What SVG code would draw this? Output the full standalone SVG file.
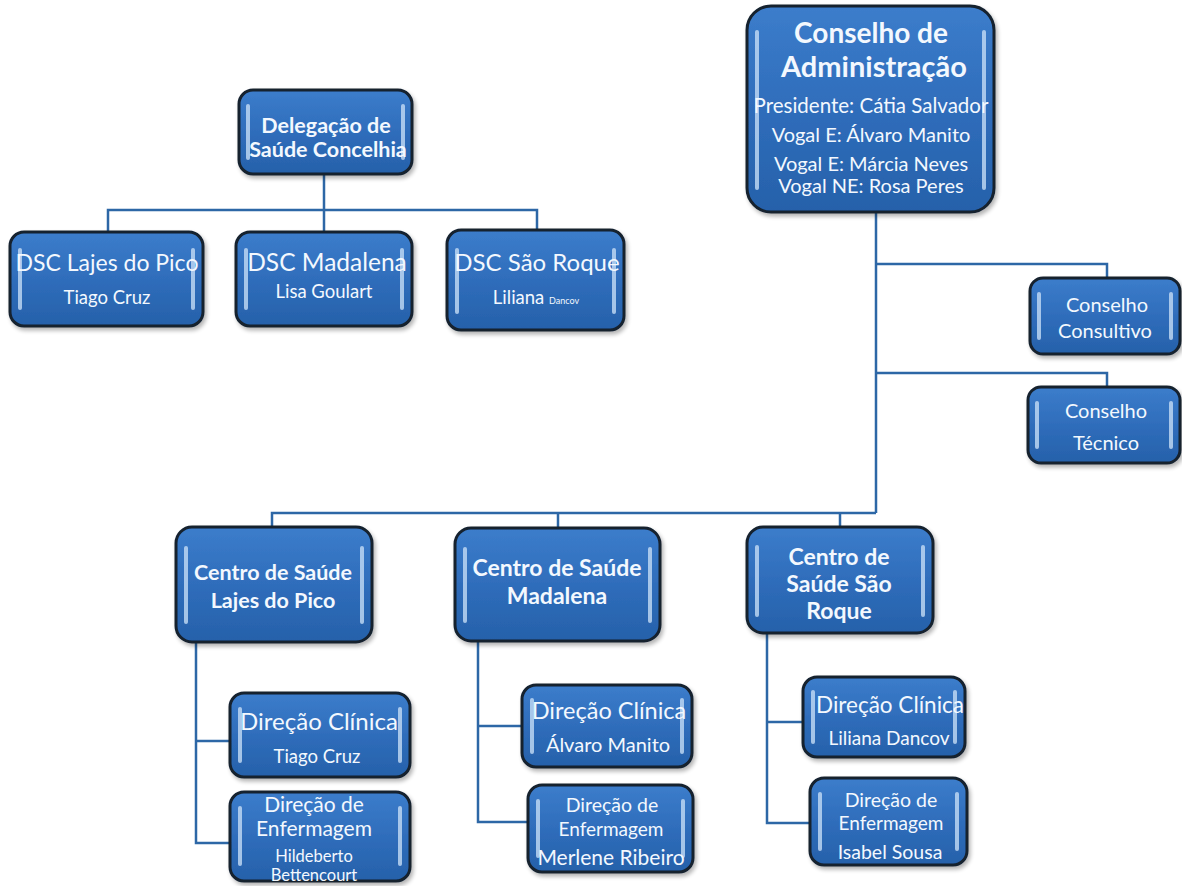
<svg xmlns="http://www.w3.org/2000/svg" width="1182" height="886" viewBox="0 0 1182 886">
<defs>
<linearGradient id="g" x1="0" y1="0" x2="0" y2="1">
<stop offset="0" stop-color="#3c7dcb"/>
<stop offset="0.5" stop-color="#2f6dbb"/>
<stop offset="1" stop-color="#2661aa"/>
</linearGradient>
<filter id="sh" x="-10%" y="-10%" width="130%" height="130%">
<feGaussianBlur in="SourceAlpha" stdDeviation="2"/>
<feOffset dx="2" dy="3" result="b"/>
<feComponentTransfer><feFuncA type="linear" slope="0.3"/></feComponentTransfer>
<feMerge><feMergeNode/><feMergeNode in="SourceGraphic"/></feMerge>
</filter>
</defs>
<style>
.box{fill:url(#g);stroke:#13202f;stroke-width:3;filter:url(#sh)}
.hl{fill:#c4dcf5;opacity:0.8}
.c{fill:none;stroke:#2d67a6;stroke-width:2.5}
text{font-family:Lato,"Open Sans","Liberation Sans",sans-serif;fill:#f3f8fe;text-anchor:middle}
.b{font-weight:bold}
</style>
<rect width="1182" height="886" fill="#ffffff"/>
<g id="connectors">
<path class="c" d="M324 175V210M108 232V210H537V230M324 210V232"/>
<path class="c" d="M876 213V513M876 264H1107V279M876 373H1107V387"/>
<path class="c" d="M876 513H272V527M558 513V528M840 513V528"/>
<path class="c" d="M196 642V843H230M196 741H230"/>
<path class="c" d="M478 641V822H528M478 726H522"/>
<path class="c" d="M767 634V823H810M767 722H803"/>
</g>
<g id="delegacao">
<rect class="box" x="239" y="90" width="173" height="84" rx="14"/>
<rect class="hl" x="246" y="104" width="4" height="56" rx="2"/><rect class="hl" x="401" y="104" width="4" height="56" rx="2"/>
<text class="b" x="326" y="133" font-size="21.5">Delegação de</text>
<text class="b" x="328" y="157" font-size="21.5">Saúde Concelhia</text>
</g>
<g id="dsc-lajes">
<rect class="box" x="10" y="232" width="193" height="94" rx="14"/>
<rect class="hl" x="18" y="248" width="4" height="62" rx="2"/><rect class="hl" x="191" y="248" width="4" height="62" rx="2"/>
<text x="107" y="271" font-size="23">DSC Lajes do Pico</text>
<text x="107" y="304" font-size="18.5">Tiago Cruz</text>
</g>
<g id="dsc-madalena">
<rect class="box" x="236" y="232" width="176" height="94" rx="14"/>
<rect class="hl" x="244" y="248" width="4" height="62" rx="2"/><rect class="hl" x="400" y="248" width="4" height="62" rx="2"/>
<text x="327" y="271" font-size="24.5">DSC Madalena</text>
<text x="324" y="298" font-size="18.5">Lisa Goulart</text>
</g>
<g id="dsc-saoroque">
<rect class="box" x="447" y="230" width="177" height="100" rx="14"/>
<rect class="hl" x="455" y="248" width="4" height="66" rx="2"/><rect class="hl" x="612" y="248" width="4" height="66" rx="2"/>
<text x="537" y="271" font-size="24">DSC São Roque</text>
<text x="536" y="304" font-size="18.5">Liliana <tspan font-size="9">Dancov</tspan></text>
</g>
<g id="conselho-administracao">
<rect class="box" x="747" y="6" width="247" height="206" rx="24"/>
<rect class="hl" x="755" y="30" width="4" height="160" rx="2"/><rect class="hl" x="982" y="30" width="4" height="160" rx="2"/>
<text class="b" x="871" y="43" font-size="28">Conselho de</text>
<text class="b" x="874" y="77" font-size="29">Administração</text>
<text x="871" y="113" font-size="20.5">Presidente: Cátia Salvador</text>
<text x="871" y="142" font-size="20">Vogal E: Álvaro Manito</text>
<text x="871" y="171" font-size="20">Vogal E: Márcia Neves</text>
<text x="871" y="193" font-size="20">Vogal NE: Rosa Peres</text>
</g>
<g id="conselho-consultivo">
<rect class="box" x="1030" y="278" width="150" height="76" rx="13"/>
<rect class="hl" x="1037" y="292" width="4" height="48" rx="2"/><rect class="hl" x="1169" y="292" width="4" height="48" rx="2"/>
<text x="1107" y="312" font-size="20">Conselho</text>
<text x="1105" y="338" font-size="20">Consultivo</text>
</g>
<g id="conselho-tecnico">
<rect class="box" x="1028" y="387" width="152" height="76" rx="13"/>
<rect class="hl" x="1035" y="401" width="4" height="48" rx="2"/><rect class="hl" x="1169" y="401" width="4" height="48" rx="2"/>
<text x="1106" y="418" font-size="20">Conselho</text>
<text x="1106" y="450" font-size="20">Técnico</text>
</g>
<g id="cs-lajes">
<rect class="box" x="176" y="527" width="196" height="115" rx="16"/>
<rect class="hl" x="184" y="546" width="4" height="78" rx="2"/><rect class="hl" x="360" y="546" width="4" height="78" rx="2"/>
<text class="b" x="273" y="580" font-size="21.5">Centro de Saúde</text>
<text class="b" x="273" y="608" font-size="21.5">Lajes do Pico</text>
</g>
<g id="cs-madalena">
<rect class="box" x="455" y="528" width="205" height="113" rx="16"/>
<rect class="hl" x="463" y="547" width="4" height="76" rx="2"/><rect class="hl" x="648" y="547" width="4" height="76" rx="2"/>
<text class="b" x="557" y="576" font-size="23">Centro de Saúde</text>
<text class="b" x="557" y="604" font-size="23">Madalena</text>
</g>
<g id="cs-saoroque">
<rect class="box" x="747" y="527" width="186" height="106" rx="16"/>
<rect class="hl" x="755" y="545" width="4" height="72" rx="2"/><rect class="hl" x="921" y="545" width="4" height="72" rx="2"/>
<text class="b" x="839" y="565" font-size="23">Centro de</text>
<text class="b" x="839" y="592" font-size="23">Saúde São</text>
<text class="b" x="839" y="619" font-size="23">Roque</text>
</g>
<g id="dc-lajes">
<rect class="box" x="230" y="693" width="180" height="84" rx="14"/>
<rect class="hl" x="238" y="707" width="4" height="56" rx="2"/><rect class="hl" x="398" y="707" width="4" height="56" rx="2"/>
<text x="319" y="730" font-size="24">Direção Clínica</text>
<text x="317" y="763" font-size="18.5">Tiago Cruz</text>
</g>
<g id="de-lajes">
<rect class="box" x="230" y="792" width="180" height="89" rx="14"/>
<rect class="hl" x="238" y="806" width="4" height="60" rx="2"/><rect class="hl" x="398" y="806" width="4" height="60" rx="2"/>
<text x="314" y="812" font-size="21">Direção de</text>
<text x="314" y="836" font-size="21">Enfermagem</text>
<text x="314" y="862" font-size="16.5">Hildeberto</text>
<text x="314" y="881" font-size="16.5">Bettencourt</text>
</g>
<g id="dc-madalena">
<rect class="box" x="522" y="685" width="170" height="82" rx="14"/>
<rect class="hl" x="530" y="698" width="4" height="56" rx="2"/><rect class="hl" x="680" y="698" width="4" height="56" rx="2"/>
<text x="609" y="719" font-size="23.5">Direção Clínica</text>
<text x="608" y="752" font-size="20">Álvaro Manito</text>
</g>
<g id="de-madalena">
<rect class="box" x="528" y="785" width="165" height="87" rx="14"/>
<rect class="hl" x="536" y="799" width="4" height="59" rx="2"/><rect class="hl" x="681" y="799" width="4" height="59" rx="2"/>
<text x="612" y="812" font-size="19.5">Direção de</text>
<text x="611" y="836" font-size="19">Enfermagem</text>
<text x="611" y="865" font-size="21">Merlene Ribeiro</text>
</g>
<g id="dc-saoroque">
<rect class="box" x="803" y="677" width="162" height="80" rx="14"/>
<rect class="hl" x="811" y="690" width="4" height="54" rx="2"/><rect class="hl" x="953" y="690" width="4" height="54" rx="2"/>
<text x="890" y="713" font-size="22.5">Direção Clínica</text>
<text x="889" y="745" font-size="19">Liliana Dancov</text>
</g>
<g id="de-saoroque">
<rect class="box" x="810" y="778" width="157" height="87" rx="14"/>
<rect class="hl" x="818" y="792" width="4" height="59" rx="2"/><rect class="hl" x="955" y="792" width="4" height="59" rx="2"/>
<text x="891" y="807" font-size="19.5">Direção de</text>
<text x="891" y="830" font-size="19">Enfermagem</text>
<text x="890" y="859" font-size="19.5">Isabel Sousa</text>
</g>
</svg>
